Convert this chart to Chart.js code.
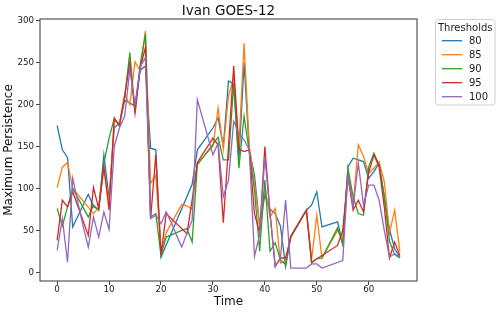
<!DOCTYPE html>
<html>
<head>
<meta charset="utf-8">
<script src="https://cdn.jsdelivr.net/npm/chart.js@4/dist/chart.umd.min.js"></script>
<style>
  html, body { margin: 0; padding: 0; background: #fff; }
  #wrap { width: 500px; height: 313px; }
</style>
</head>
<body>
<div id="wrap"><canvas id="ivanChart" width="500" height="313"></canvas></div>
<script>
// thresholds and their (time, max persistence) readings
var thresholds = ["80", "85", "90", "95", "100"];
var lineColors = ["#1f77b4", "#ff7f0e", "#2ca02c", "#d62728", "#9467bd"];

var t80 = [0,1,2,3,6,7,8,9,10,11,12,13,14,15,16,17,18,19,20,26,27,30,31,32,33,34,35,36,37,38,39,40,41,42,43,44,45,48,49,50,51,54,55,56,57,59,60,61,62,63,64,65,66];
var v80 = [175,146,137,54,93,78,75,140,88,172,178,205,202,198,241,246,148,146,18,105,146,172,184,150,228,225,134,250,146,116,55,92,75,70,55,7,43,74,80,96,54,60,34,126,136,132,112,120,130,90,51,28,18];

var t85 = [0,1,2,3,7,8,9,10,11,12,13,14,15,16,17,18,19,20,21,24,25,26,27,30,31,32,33,34,35,36,37,38,39,40,41,42,43,44,45,48,49,50,51,54,55,56,57,58,59,60,61,62,63,64,65,66];
var v85 = [101,125,131,100,70,77,124,82,181,177,212,200,251,240,288,106,116,25,47,81,79,75,130,150,196,147,210,232,150,273,150,107,55,102,66,76,11,13,43,74,15,68,17,50,39,122,80,152,138,118,124,132,108,47,74,25];

var t90 = [0,1,2,3,6,7,8,9,10,11,12,13,14,15,16,17,18,19,20,21,24,25,26,27,31,32,33,34,35,36,37,38,39,40,41,42,43,44,45,48,49,50,51,54,55,56,57,58,59,60,61,62,63,64,65,66];
var v90 = [76,55,78,100,66,80,74,130,160,183,175,208,262,190,248,284,66,70,20,42,50,52,36,128,161,134,134,225,124,186,144,98,25,110,25,35,15,9,43,74,11,16,17,53,33,124,90,70,68,126,142,128,90,37,21,17];

var t95 = [0,1,2,3,6,7,8,9,10,11,12,13,14,15,16,17,18,19,20,21,25,26,27,30,31,32,33,34,35,36,37,38,39,40,41,42,43,44,45,48,49,54,55,56,57,58,59,60,61,62,63,64,65,66];
var v95 = [38,86,78,96,44,101,76,126,74,184,175,210,250,190,244,268,64,140,21,70,46,86,131,160,152,59,150,246,147,144,146,70,47,150,70,7,17,17,42,74,12,32,50,114,74,86,72,119,140,126,78,17,36,20];

var t100 = [0,1,2,3,4,5,6,7,8,9,10,11,12,13,14,15,16,17,18,19,20,21,22,23,24,25,26,27,30,31,32,33,34,35,36,37,38,39,40,41,42,43,44,45,48,49,50,51,55,56,57,58,59,60,61,62,63,64,65,66];
var v100 = [26,64,12,112,83,55,30,66,42,72,51,150,172,186,242,200,245,256,64,68,58,72,59,44,30,47,62,206,140,154,90,110,180,166,158,146,19,45,138,70,7,17,86,5,5,10,10,5,14,115,78,130,80,104,104,86,50,18,22,18];

var times = [t80, t85, t90, t95, t100];
var values = [v80, v85, v90, v95, v100];

var xTicks = [0, 10, 20, 30, 40, 50, 60];
var yTicks = [0, 50, 100, 150, 200, 250, 300];

const FONT = "'DejaVu Sans', sans-serif";

function pairs(ts, vs) {
  return ts.map((t, i) => ({ x: t, y: vs[i] }));
}

const datasets = thresholds.map((name, i) => ({
  label: name,
  data: pairs(times[i], values[i]),
  borderColor: lineColors[i],
  backgroundColor: lineColors[i],
  borderWidth: 1.3,
  pointRadius: 0,
  tension: 0,
  fill: false,
  order: thresholds.length - i, // matplotlib draws later series on top
}));

// frame, title and the boxed legend, matplotlib style
const decor = {
  id: "decor",
  afterDraw(chart) {
    const ctx = chart.ctx;
    const a = chart.chartArea;
    ctx.save();
    ctx.strokeStyle = "#555";
    ctx.lineWidth = 1.2;
    ctx.strokeRect(a.left, a.top, a.right - a.left, a.bottom - a.top);

    ctx.fillStyle = "#111";
    ctx.font = "13.5px " + FONT;
    ctx.textAlign = "center";
    ctx.textBaseline = "alphabetic";
    ctx.fillText("Ivan GOES-12", (a.left + a.right) / 2, 15);

    // legend
    const bx = 435.5, by = 19.5, bw = 59.5, bh = 85.5, r = 3;
    ctx.beginPath();
    ctx.moveTo(bx + r, by);
    ctx.arcTo(bx + bw, by, bx + bw, by + bh, r);
    ctx.arcTo(bx + bw, by + bh, bx, by + bh, r);
    ctx.arcTo(bx, by + bh, bx, by, r);
    ctx.arcTo(bx, by, bx + bw, by, r);
    ctx.closePath();
    ctx.fillStyle = "rgba(255,255,255,0.8)";
    ctx.fill();
    ctx.strokeStyle = "#d0d0d0";
    ctx.lineWidth = 1;
    ctx.stroke();

    ctx.fillStyle = "#222";
    ctx.font = "10px " + FONT;
    ctx.textAlign = "center";
    ctx.fillText("Thresholds", bx + bw / 2, 30.5);

    chart.data.datasets.forEach((ds, i) => {
      const y = 40.7 + 14 * i;
      ctx.strokeStyle = ds.borderColor;
      ctx.lineWidth = 1.3;
      ctx.beginPath();
      ctx.moveTo(442, y);
      ctx.lineTo(462, y);
      ctx.stroke();
      ctx.fillStyle = "#222";
      ctx.textAlign = "left";
      ctx.textBaseline = "middle";
      ctx.fillText(ds.label, 469, y + 0.5);
    });
    ctx.restore();
  },
};

new Chart(document.getElementById("ivanChart"), {
  type: "line",
  data: { datasets: datasets },
  options: {
    responsive: false,
    animation: false,
    layout: { padding: { left: 0, right: 83, top: 19, bottom: 0 } },
    plugins: {
      legend: { display: false },
      title: { display: false },
      tooltip: { enabled: false },
    },
    scales: {
      x: {
        type: "linear",
        min: -3.3,
        max: 69.3,
        afterBuildTicks: (s) => { s.ticks = xTicks.map((v) => ({ value: v })); },
        afterFit: (s) => { s.height = 32; },
        ticks: { color: "#222", font: { family: FONT, size: 8.7 }, padding: 0, maxRotation: 0 },
        grid: { display: true, drawOnChartArea: false, drawTicks: true, tickLength: 4, tickColor: "#444" },
        border: { display: false },
        title: { display: true, text: "Time", color: "#111", font: { family: FONT, size: 12 }, padding: { top: 0, bottom: 4 } },
      },
      y: {
        type: "linear",
        min: -10.4,
        max: 302,
        afterBuildTicks: (s) => { s.ticks = yTicks.map((v) => ({ value: v })); },
        afterFit: (s) => { s.width = 40; },
        ticks: { color: "#222", font: { family: FONT, size: 8.7 }, padding: 2 },
        grid: { display: true, drawOnChartArea: false, drawTicks: true, tickLength: 4, tickColor: "#444" },
        border: { display: false },
        title: { display: true, text: "Maximum Persistence", color: "#111", font: { family: FONT, size: 12 }, padding: { top: 2, bottom: 0 } },
      },
    },
  },
  plugins: [decor],
});
</script>
</body>
</html>
